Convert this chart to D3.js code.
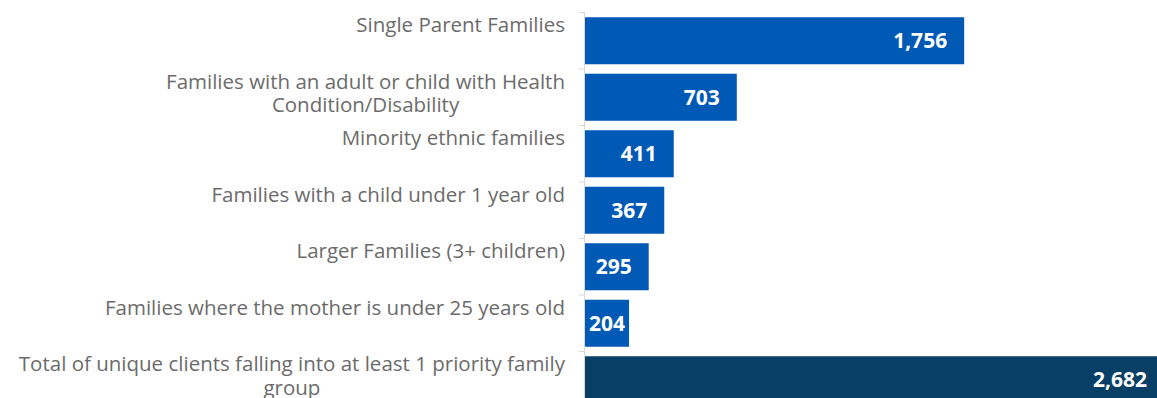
<!DOCTYPE html>
<html>
<head>
<meta charset="utf-8">
<script src="https://cdn.jsdelivr.net/npm/d3@7"></script>
<style>
  html, body { margin: 0; padding: 0; background: #fff; }
  svg { display: block; }
</style>
</head>
<body>
<svg id="chart" width="1157" height="398"></svg>
<script>
// Priority family groups and number of clients in each
const categories = [
  "Single Parent Families",
  "Families with an adult or child with Health Condition/Disability",
  "Minority ethnic families",
  "Families with a child under 1 year old",
  "Larger Families (3+ children)",
  "Families where the mother is under 25 years old",
  "Total of unique clients falling into at least 1 priority family group"
];
const values = [1756, 703, 411, 367, 295, 204, 2682];
const isTotal = [false, false, false, false, false, false, true];

const W = 1157, H = 398;
const axisX = 585;
const fontFamily = "'Open Sans', 'Noto Sans', sans-serif";
const labelSize = 20.5;
const lineHeight = 23.5;
const wrapWidth = 560;

const svg = d3.select("#chart");

const x = d3.scaleLinear().domain([0, 2700]).range([axisX, 1168]);
const y = d3.scaleBand()
  .domain(categories)
  .range([12.5, 408])
  .paddingInner(0.168)
  .paddingOuter(0.084);
const step = y.step();
const bandStart = c => y(c) - step * y.paddingInner() / 2;

// bars
svg.append("g").selectAll("rect")
  .data(categories)
  .join("rect")
  .attr("x", x(0))
  .attr("y", c => y(c))
  .attr("width", (c, i) => x(values[i]) - x(0))
  .attr("height", y.bandwidth())
  .attr("fill", (c, i) => isTotal[i] ? "#083f66" : "#0059b5");

// category axis line and tick marks at band edges
const axisG = svg.append("g").attr("stroke", "#d9d9d9").attr("stroke-width", 1);
axisG.append("line")
  .attr("x1", axisX - 0.5).attr("x2", axisX - 0.5)
  .attr("y1", bandStart(categories[0])).attr("y2", H);
axisG.selectAll("line.tick")
  .data(d3.range(categories.length + 1))
  .join("line")
  .attr("class", "tick")
  .attr("x1", axisX - 6).attr("x2", axisX - 0.5)
  .attr("y1", i => 12.5 + i * step)
  .attr("y2", i => 12.5 + i * step);

// category labels, wrapped and centred within a right-aligned block
const labelG = svg.append("g")
  .attr("font-family", fontFamily)
  .attr("font-size", labelSize)
  .attr("fill", "#6b6b6b");

const measurer = labelG.append("text").attr("visibility", "hidden");
function textWidth(s) { measurer.text(s); return measurer.node().getComputedTextLength(); }

function wrap(s) {
  const words = s.split(" ");
  const lines = [];
  let line = "";
  for (const w of words) {
    const test = line ? line + " " + w : w;
    if (line && textWidth(test) > wrapWidth) { lines.push(line); line = w; }
    else line = test;
  }
  if (line) lines.push(line);
  return lines;
}

categories.forEach(c => {
  const lines = wrap(c);
  const widths = lines.map(textWidth);
  const blockW = d3.max(widths);
  const right = axisX - 20;
  const cx = right - blockW / 2;
  const base = y(c) + y.bandwidth() / 2 - 8.5;
  const t = labelG.append("text").attr("text-anchor", "middle");
  lines.forEach((ln, k) => {
    t.append("tspan").attr("x", cx).attr("y", base + k * lineHeight).text(ln);
  });
});
measurer.remove();

// value labels inside the bar ends
const fmt = d3.format(",");
const valG = svg.append("g")
  .attr("font-family", fontFamily)
  .attr("font-size", 21)
  .attr("font-weight", "bold")
  .attr("fill", "#ffffff");
categories.forEach((c, i) => {
  const t = valG.append("text")
    .attr("text-anchor", "end")
    .attr("y", y(c) + y.bandwidth() / 2 + 7.5)
    .text(fmt(values[i]));
  const tw = t.node().getComputedTextLength();
  const end = Math.max(x(values[i]) - 17, x(0) + 4 + tw);
  t.attr("x", end);
});
</script>
</body>
</html>
